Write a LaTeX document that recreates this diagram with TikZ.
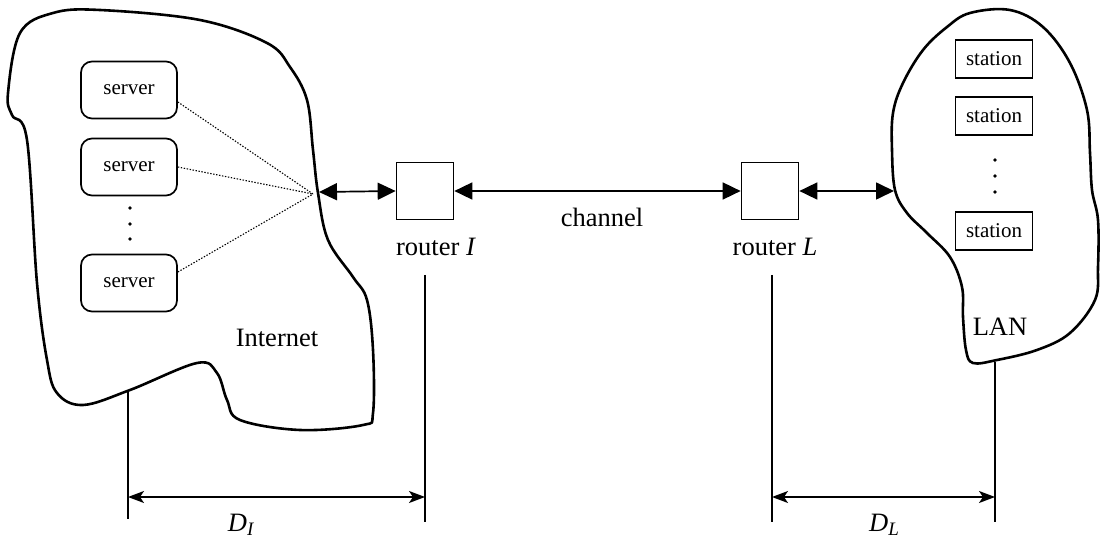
\documentclass[tikz,border=0pt]{standalone}
\usepackage{fontspec}
\setmainfont{Liberation Serif}
\usetikzlibrary{arrows.meta}
\begin{document}
\begin{tikzpicture}[x=1pt,y=-1pt,
  cloud/.style={line width=2.6pt,line join=round},
  serverbox/.style={draw,line width=1.7pt,rounded corners=11pt,minimum width=96pt,minimum height=57pt,inner sep=0pt,font=\fontsize{21}{24}\selectfont},
  stationbox/.style={draw,line width=1.7pt,minimum width=77pt,minimum height=38pt,inner sep=0pt,font=\fontsize{21}{24}\selectfont},
  routerbox/.style={draw,line width=1.7pt,minimum size=57pt,inner sep=0pt},
  lbl/.style={font=\fontsize{26.5}{30}\selectfont,inner sep=0pt},
  link/.style={line width=1.7pt,{Triangle[length=18pt,width=17pt]}-{Triangle[length=18pt,width=17pt]}},
  dimline/.style={line width=1.4pt},
  dimarrow/.style={line width=1.4pt,{Stealth[length=16pt,width=12pt,inset=4pt]}-{Stealth[length=16pt,width=12pt,inset=4pt]}},
  fan/.style={line width=1.1pt,dash pattern=on 1.4pt off 1.6pt},
  dot/.style={circle,fill,inner sep=0pt,minimum size=3.8pt}]
\useasboundingbox (0,0) rectangle (1101,548);
% Internet cloud
\draw[cloud] plot[smooth cycle,tension=0.6] coordinates {
 (20,33) (53,13) (100,10) (200,20) (267,43) (290,67) (307,100) (313,150)
 (318,193) (328,240) (353,277) (367,300) (373,350) (373,413) (363,425)
 (300,430) (240,420) (227,400) (217,373) (197,363) (130,390) (83,405)
 (57,393) (47,360) (37,283) (27,140) (12,115) (8,93)};
% LAN cloud
\draw[cloud] plot[smooth cycle,tension=0.6] coordinates {
 (970,13) (1010,10) (1043,27) (1070,63) (1087,110) (1090,153) (1092,190)
 (1098,220) (1098,267) (1095,300) (1070,333) (1037,350) (997,360) (973,363)
 (966,350) (963,317) (962,287) (950,257) (927,233) (907,213) (895,190)
 (892,150) (893,113) (903,83) (923,50) (947,27)};
% servers
\node[serverbox] (s1) at (129,90) {server};
\node[serverbox] (s2) at (129,167) {server};
\node[serverbox] (s3) at (129,283) {server};
\node[dot] (sd1) at (130,208) {};
\node[dot] (sd2) at (130,224) {};
\node[dot] (sd3) at (130,239) {};
\coordinate (ihub) at (313,194);
\coordinate (iedge) at (319,192);
\draw[fan] ([yshift=-12pt]s1.east) -- (ihub);
\draw[fan] (s2.east) -- (ihub);
\draw[fan] ([yshift=11pt]s3.east) -- (ihub);
\node[lbl] (inet) at (277,338) {Internet};
% stations
\node[stationbox] (t1) at (994,59) {station};
\node[stationbox] (t2) at (994,116) {station};
\node[stationbox] (t3) at (994,231) {station};
\node[dot] (td1) at (995,160) {};
\node[dot] (td2) at (995,176) {};
\node[dot] (td3) at (995,192) {};
\node[lbl] (lan) at (1000,327) {LAN};
% routers
\node[routerbox] (rI) at (425,191) {};
\node[routerbox] (rL) at (770,191) {};
\coordinate (ledge) at (894,191);
\node[lbl] (rIl) at (436,247) {router \textit{I}};
\node[lbl] (rLl) at (775,247) {router \textit{L}};
\node[lbl] (ch) at (602,217) {channel};
\draw[link] (iedge) -- (rI.west);
\draw[link] (rI.east) -- (rL.west);
\draw[link] (rL.east) -- (ledge);
% dimension lines
\coordinate (a1) at (128,391);
\coordinate (a2) at (128,519);
\coordinate (b1) at (425,275);
\coordinate (b2) at (425,522);
\coordinate (c1) at (772,275);
\coordinate (c2) at (772,522);
\coordinate (d1) at (995,362);
\coordinate (d2) at (995,522);
\draw[dimline] (a1) -- (a2);
\draw[dimline] (b1) -- (b2);
\draw[dimline] (c1) -- (c2);
\draw[dimline] (d1) -- (d2);
\coordinate (da) at (128,497);
\coordinate (db) at (425,497);
\coordinate (dc) at (772,497);
\coordinate (dd) at (995,497);
\draw[dimarrow] (da) -- (db);
\draw[dimarrow] (dc) -- (dd);
\node[lbl] (DI) at (241,525) {\textit{D}\raisebox{-0.35ex}{\fontsize{19}{20}\selectfont\textit{I}}};
\node[lbl] (DL) at (884,525) {\textit{D}\raisebox{-0.35ex}{\fontsize{19}{20}\selectfont\textit{L}}};
\end{tikzpicture}
\end{document}
